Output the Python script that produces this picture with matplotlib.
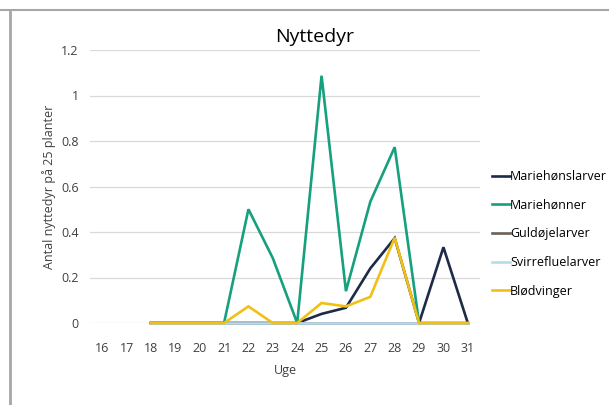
import numpy as np
import matplotlib
matplotlib.use('Agg')
from matplotlib import pyplot as plt
from matplotlib.lines import Line2D

plt.rcParams['font.family'] = ['Open Sans', 'DejaVu Sans']

weeks = list(range(16, 32))
nan = np.nan
# values per week 16..31
mariehoenslarver = [nan, nan, 0, 0, 0, 0, 0, 0, 0, 0.04, 0.067, 0.24, 0.373, 0, 0.333, 0]
mariehoenner = [nan, nan, 0, 0, 0, 0, 0.5, 0.285, 0, 1.087, 0.14, 0.533, 0.773, 0, 0, 0]
guldoejelarver = [nan, nan, 0, 0, 0, 0, 0, 0, 0, 0, 0, 0, 0, 0, 0, 0]
svirrefluelarver = [nan, nan, 0, 0, 0, 0, 0, 0, 0, 0, 0, 0, 0, 0, 0, 0]
bloedvinger = [nan, nan, 0, 0, 0, 0, 0.073, 0, 0, 0.088, 0.073, 0.115, 0.375, 0, 0, 0]

series = [
    ('Mariehønslarver', mariehoenslarver, '#1d2a48'),
    ('Mariehønner', mariehoenner, '#16a07e'),
    ('Guldøjelarver', guldoejelarver, '#6b5f58'),
    ('Svirrefluelarver', svirrefluelarver, '#b8dbea'),
    ('Blødvinger', bloedvinger, '#f2c014'),
]

fig = plt.figure(figsize=(6.09, 4.05), dpi=100)
ax = fig.add_axes([90/609, 1-323/405, 390/609, 273/405])

for name, vals, col in series:
    ax.plot(weeks, vals, color=col, lw=1.9, label=name, clip_on=False,
            solid_joinstyle='miter')

ax.set_xlim(15.5, 31.5)
ax.set_ylim(0, 1.2)
ax.set_xticks(weeks)
ax.set_yticks([0, 0.2, 0.4, 0.6, 0.8, 1.0, 1.2])
ax.set_yticklabels(['0', '0.2', '0.4', '0.6', '0.8', '1', '1.2'])
ax.tick_params(length=0, labelsize=9, colors='#404040', pad=8)
ax.tick_params(axis='x', pad=14)
ax.grid(axis='y', color='#d9d9d9', lw=0.9)
ax.set_axisbelow(True)
for s in ax.spines.values():
    s.set_visible(False)

fig.text(315/609, 1-37/405, 'Nyttedyr', fontsize=14, color='#000000',
         ha='center', va='center')
ax.set_xlabel('Uge', fontsize=9, color='#404040', labelpad=6)
ax.set_ylabel('Antal nyttedyr på 25 planter', fontsize=9, color='#404040', labelpad=4)

fig.legend(loc='upper left', bbox_to_anchor=(487/609, 1-165/405), frameon=False,
           fontsize=9, handlelength=1.4, handletextpad=0.05, labelspacing=1.25,
           borderaxespad=0)

# outer frame lines
fig.add_artist(Line2D([0, 1], [1-10/405, 1-10/405], color='#a6a6a6', lw=1.5))
fig.add_artist(Line2D([10/609, 10/609], [0, 1-10/405], color='#a6a6a6', lw=2))

fig.savefig('out.png', dpi=100)
